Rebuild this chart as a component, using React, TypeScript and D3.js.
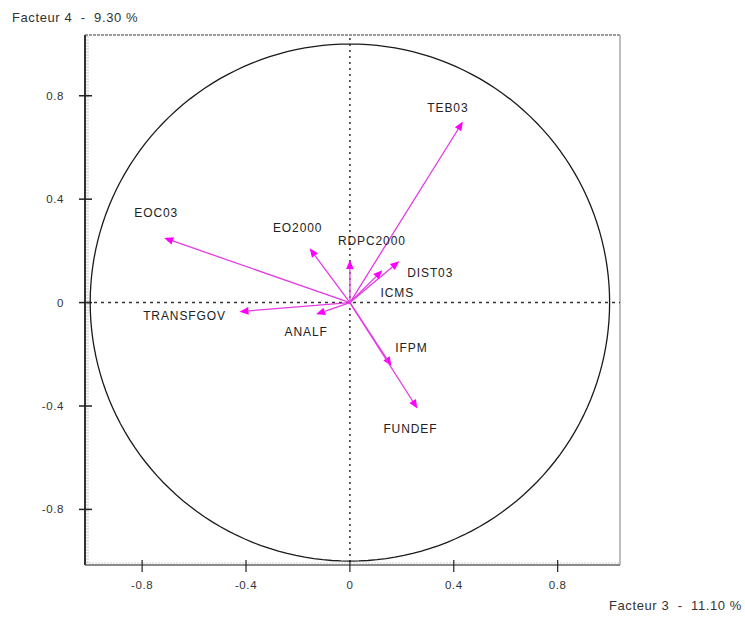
import React from "react";
import * as d3 from "d3";

// Correlation circle: variables projected on factors 3 and 4
const variables = ["TEB03", "EOC03", "EO2000", "RDPC2000", "DIST03", "ICMS", "TRANSFGOV", "ANALF", "IFPM", "FUNDEF"];
const factor3 = [0.435, -0.715, -0.155, 0.0, 0.19, 0.125, -0.425, -0.13, 0.16, 0.26];
const factor4 = [0.7, 0.25, 0.21, 0.165, 0.16, 0.125, -0.035, -0.045, -0.245, -0.41];
const tickValues = [-0.8, -0.4, 0, 0.4, 0.8];
const xTitle = "Facteur 3  -  11.10 %";
const yTitle = "Facteur 4  -  9.30 %";

// label placement relative to each arrow tip (px)
const labelOffsets: [number, number][] = [
  [-15, -14], [-8, -25], [-12, -21], [22, -19], [31, 11],
  [15, 22], [-55, 4], [-10, 17], [20, -18], [-7, 20],
];

const W = 745;
const H = 617;
const frame = { left: 85, right: 620, top: 35, bottom: 565 };
const FONT = "'Liberation Sans', Arial, sans-serif";
const MAGENTA = "#ff00ff";

// plain hyphen for negatives
const fmtTick = (v: number) => (v === 0 ? "0" : (v < 0 ? "-" : "") + Math.abs(v).toFixed(1));

export default function App() {
  const x = d3.scaleLinear().domain([-1.02, 1.04]).range([frame.left, frame.right]);
  const y = d3.scaleLinear().domain([-1.015, 1.035]).range([frame.bottom, frame.top]);

  const x0 = x(0);
  const y0 = y(0);

  // unit circle
  const circlePts = d3.range(0, 361, 2).map((a) => {
    const t = (a * Math.PI) / 180;
    return [x(Math.cos(t)), y(Math.sin(t))] as [number, number];
  });
  const circlePath = d3.line()(circlePts) || "";

  // minor ticks along the frame
  const minorY = d3.range(frame.top + 2, frame.bottom, 3);
  const minorX = d3.range(frame.left + 2, frame.right, 3);

  return (
    <svg
      width={W}
      height={H}
      style={{ position: "absolute", left: 0, top: 0, background: "#fff" }}
      fontFamily={FONT}
    >
      <rect width={W} height={H} fill="#fff" />

      {/* frame */}
      {minorY.map((v, i) => (
        <line key={"my" + i} x1={frame.left} x2={frame.left + 4} y1={v} y2={v} stroke="#c8c8c8" strokeWidth={1} />
      ))}
      {minorX.map((v, i) => (
        <line key={"mx" + i} x1={v} x2={v} y1={frame.bottom - 3} y2={frame.bottom} stroke="#d0d0d0" strokeWidth={1} />
      ))}
      <line x1={frame.left} x2={frame.right} y1={frame.top} y2={frame.top} stroke="#9a9a9a" strokeWidth={2} strokeDasharray="3 1" />
      <line x1={frame.right} x2={frame.right} y1={frame.top} y2={frame.bottom} stroke="#a8a8a8" strokeWidth={1.5} />
      <line x1={frame.left} x2={frame.right} y1={frame.bottom} y2={frame.bottom} stroke="#8a8a8a" strokeWidth={2} />
      <line x1={frame.left} x2={frame.left} y1={frame.top} y2={frame.bottom} stroke="#333" strokeWidth={2} />

      {/* major ticks and labels */}
      {tickValues.map((v) => (
        <g key={"yt" + v}>
          <line x1={frame.left - 6} x2={frame.left + 7} y1={y(v)} y2={y(v)} stroke="#222" strokeWidth={1.5} />
          <text x={frame.left - 21} y={y(v) + 4} textAnchor="end" fontSize={11.5} fill="#333" letterSpacing={0.6}>
            {fmtTick(v)}
          </text>
        </g>
      ))}
      {tickValues.map((v) => (
        <g key={"xt" + v}>
          <line x1={x(v)} x2={x(v)} y1={frame.bottom - 5} y2={frame.bottom + 7} stroke="#222" strokeWidth={1.2} />
          <text x={x(v)} y={frame.bottom + 24} textAnchor="middle" fontSize={11.5} fill="#333" letterSpacing={0.6}>
            {fmtTick(v)}
          </text>
        </g>
      ))}

      {/* dotted reference axes */}
      <line x1={x0} x2={x0} y1={frame.top + 3} y2={frame.bottom - 2} stroke="#333" strokeWidth={1.5} strokeDasharray="2 4" />
      <line x1={frame.left + 2} x2={frame.right} y1={y0} y2={y0} stroke="#333" strokeWidth={1.5} strokeDasharray="3 4" />

      {/* correlation circle */}
      <path d={circlePath} fill="none" stroke="#1a1a1a" strokeWidth={1.3} />

      {/* variable vectors */}
      {variables.map((name, i) => {
        const tx = x(factor3[i]);
        const ty = y(factor4[i]);
        const dx = tx - x0;
        const dy = ty - y0;
        const len = Math.sqrt(dx * dx + dy * dy) || 1;
        const ux = dx / len;
        const uy = dy / len;
        const hl = 9;
        const hw = 3.8;
        const bx = tx - ux * hl;
        const by = ty - uy * hl;
        const head = [
          [tx, ty],
          [bx - uy * hw, by + ux * hw],
          [bx + uy * hw, by - ux * hw],
        ]
          .map((p) => p.join(","))
          .join(" ");
        return (
          <g key={name}>
            <line x1={x0} y1={y0} x2={bx} y2={by} stroke="#e33be3" strokeWidth={1.3} />
            <polygon points={head} fill={MAGENTA} />
          </g>
        );
      })}

      {/* variable labels */}
      {variables.map((name, i) => (
        <text
          key={"l" + name}
          x={x(factor3[i]) + labelOffsets[i][0]}
          y={y(factor4[i]) + labelOffsets[i][1] + 4.5}
          textAnchor="middle"
          fontSize={12}
          fill="#222"
          letterSpacing={0.9}
        >
          {name}
        </text>
      ))}

      {/* factor titles */}
      <text x={12} y={22} fontSize={13} fill="#333" letterSpacing={0.6} style={{ whiteSpace: "pre" }}>
        {yTitle}
      </text>
      <text x={742} y={610} textAnchor="end" fontSize={13} fill="#333" letterSpacing={0.6} style={{ whiteSpace: "pre" }}>
        {xTitle}
      </text>
    </svg>
  );
}
